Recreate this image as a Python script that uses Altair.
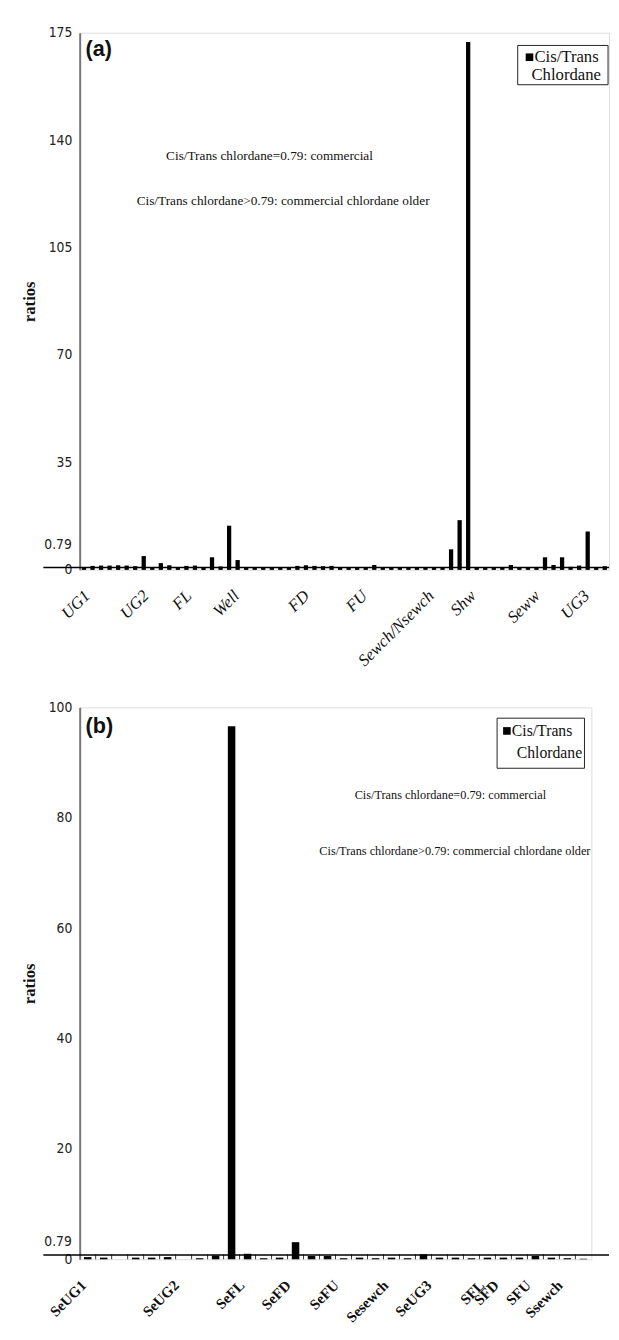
import altair as alt
import pandas as pd

# ---------------- data ----------------
a_values = [0.8, 1.3, 1.4, 1.4, 1.5, 1.4, 1.2, 4.5, 0.8, 2.2,
            1.5, 0.9, 1.3, 1.4, 0.9, 4.1, 1.1, 14.4, 3.2, 0.9,
            0.9, 0.8, 0.9, 0.8, 0.9, 1.3, 1.5, 1.3, 1.2, 1.3,
            0.9, 0.9, 0.8, 0.9, 1.6, 0.9, 0.8, 0.9, 0.9, 0.8,
            0.9, 0.9, 0.8, 6.7, 16.2, 172.0, 0.9, 0.8, 0.9, 0.9,
            1.6, 0.9, 0.8, 0.9, 4.1, 1.6, 4.1, 1.0, 1.4, 12.5,
            0.9, 1.2]
a_groups = ["UG1", "UG2", "FL", "Well", "FD", "FU", "Sewch/Nsewch", "Shw", "Seww", "UG3"]
a_group_slot = [0.4, 7.3, 12.3, 17.9, 26.1, 32.9, 40.7, 45.6, 53.1, 58.9]
a_ticks = [0, 35, 70, 105, 140, 175]

b_values = [0.4, 0.3, 0.0, 0.3, 0.3, 0.4, 0.0, 0.2, 0.7, 96.6,
            1.0, 0.2, 0.3, 3.1, 0.6, 0.6, 0.2, 0.3, 0.2, 0.3,
            0.2, 0.9, 0.3, 0.3, 0.2, 0.3, 0.3, 0.3, 0.6, 0.3,
            0.2, 0.1]
b_groups = ["SeUG1", "SeUG2", "SeFL", "SeFD", "SeFU", "Sesewch", "SeUG3", "SFL", "SFD", "SFU", "Ssewch"]
b_group_slot = [-0.25, 5.55, 9.65, 12.55, 15.55, 18.65, 21.35, 24.65, 25.55, 27.55, 29.55]
b_ticks = [0, 20, 40, 60, 80, 100]

threshold = [0.79]
series_name = ["Cis/Trans", "Chlordane"]
notes = ["Cis/Trans chlordane=0.79: commercial",
         "Cis/Trans chlordane>0.79: commercial chlordane older"]

SERIF = "Liberation Serif, Times New Roman, serif"
NARROW = "Liberation Sans Narrow, DejaVu Sans Condensed, Liberation Sans, sans-serif"


def panel(values, groups, gslot, ticks, tag, w, h, cfg):
    n = len(values)
    df = pd.DataFrame({"slot": list(range(n)), "ratio": values})
    xs = alt.Scale(domain=[0, n], nice=False, zero=False)
    ys = alt.Scale(domain=[ticks[0], ticks[-1]], nice=False)
    yaxis = alt.Axis(values=ticks, title="ratios", ticks=False, grid=False,
                     labelFont=NARROW, labelFontSize=14, labelColor="#222",
                     labelPadding=8, domainColor="#777", domainWidth=2,
                     titleFont=SERIF, titleFontSize=17, titleFontWeight="bold",
                     titleColor="#111", titlePadding=10)

    bars = alt.Chart(df).transform_calculate(
        lo=f"datum.slot + {0.5 - cfg['barfrac'] / 2}",
        hi=f"datum.slot + {0.5 + cfg['barfrac'] / 2}",
    ).mark_bar(color="black").encode(
        x=alt.X("lo:Q", scale=xs, axis=None),
        x2="hi:Q",
        y=alt.Y("ratio:Q", scale=ys, axis=yaxis),
        y2=alt.datum(0),
    )

    layers = [bars]

    if cfg.get("ticks"):
        bdf = pd.DataFrame({"k": list(range(1, n))})
        layers.append(alt.Chart(bdf).mark_rule(color="#333", strokeWidth=1).encode(
            x=alt.X("k:Q", scale=xs, axis=None),
            y=alt.value(h), y2=alt.value(h - 5)))

    tdf = pd.DataFrame({"v": threshold})
    layers.append(alt.Chart(tdf).mark_rule(color="black", strokeWidth=1.5).encode(
        y=alt.Y("v:Q", scale=ys, axis=yaxis),
        x=alt.value(-37), x2=alt.value(cfg["rule_right"])))
    layers.append(alt.Chart(tdf).mark_text(
        align="right", baseline="middle", font=NARROW, fontSize=14, color="#222",
        dy=cfg["label079_dy"]).encode(
        y=alt.Y("v:Q", scale=ys, axis=yaxis), x=alt.value(-8), text=alt.Text("v:Q")))

    gdf = pd.DataFrame({"g": groups, "s": gslot})
    layers.append(alt.Chart(gdf).transform_calculate(c="datum.s + 0.5").mark_text(
        angle=315, align="right", baseline="middle", font=SERIF,
        fontSize=cfg["xfs"], fontStyle=cfg["xstyle"], fontWeight=cfg["xweight"],
        color="#111").encode(
        x=alt.X("c:Q", scale=xs, axis=None), y=alt.value(h + cfg["xlab_off"]), text="g:N"))

    one = pd.DataFrame({"d": [0]})
    layers.append(alt.Chart(one).mark_text(
        text=tag, align="left", baseline="middle", font="Liberation Sans, Arial, sans-serif",
        fontSize=22, fontWeight="bold", color="#111").encode(
        x=alt.value(6), y=alt.value(cfg["tag_y"])))
    for txt, (nx, ny) in zip(notes, cfg["notes_xy"]):
        layers.append(alt.Chart(one).mark_text(
            text=txt, align="left", baseline="middle", font=SERIF,
            fontSize=cfg["note_fs"], color="#111").encode(
            x=alt.value(nx), y=alt.value(ny)))
    lx0, ly0, lx1, ly1 = cfg["legend"]
    layers.append(alt.Chart(one).mark_rect(fill="white", stroke="#222", strokeWidth=1).encode(
        x=alt.value(lx0), x2=alt.value(lx1), y=alt.value(ly0), y2=alt.value(ly1)))
    layers.append(alt.Chart(one).mark_square(color="black", size=60, opacity=1).encode(
        x=alt.value(lx0 + cfg["leg_sq"]), y=alt.value(ly0 + cfg["leg_l1"])))
    layers.append(alt.Chart(one).mark_text(
        text=series_name[0], align="left", baseline="middle", font=SERIF, fontSize=cfg["leg_fs"],
        color="#111").encode(x=alt.value(lx0 + cfg["leg_sq"] + 5), y=alt.value(ly0 + cfg["leg_l1"])))
    layers.append(alt.Chart(one).mark_text(
        text=series_name[1], align="left", baseline="middle", font=SERIF, fontSize=cfg["leg_fs"],
        color="#111").encode(x=alt.value(lx0 + cfg["leg_i2"]), y=alt.value(ly0 + cfg["leg_l2"])))

    return alt.layer(*layers).properties(width=w, height=h)


WA, HA = 539, 547
WB, HB = 521, 562

pa = panel(a_values, a_groups, a_group_slot, a_ticks, "(a)", WA, HA, dict(
    barfrac=0.5, ticks=False, rule_right=WA, label079_dy=-23,
    xfs=17, xstyle="italic", xweight="normal", xlab_off=24,
    tag_y=17, note_fs=13.5, notes_xy=[(88, 126), (58, 171)],
    legend=(446, 13, 538, 53), leg_sq=12, leg_i2=14, leg_fs=17, leg_l1=12, leg_l2=30))

pb = panel(b_values, b_groups, b_group_slot, b_ticks, "(b)", WB, HB, dict(
    barfrac=0.47, ticks=True, rule_right=539, label079_dy=-13,
    xfs=15, xstyle="normal", xweight="bold", xlab_off=24,
    tag_y=19, note_fs=12.5, notes_xy=[(280, 89), (244, 146)],
    legend=(425, 11, 514, 62), leg_sq=10, leg_i2=20, leg_fs=16, leg_l1=13, leg_l2=36))

chart = alt.vconcat(pa, pb, spacing=140, bounds="flush").properties(
    padding={"left": 12, "top": 5, "right": 0, "bottom": 0}
).configure_view(stroke="#555", strokeWidth=1.5).configure(background="white")

chart.save("out.html", embed_options={"renderer": "svg", "actions": False})
